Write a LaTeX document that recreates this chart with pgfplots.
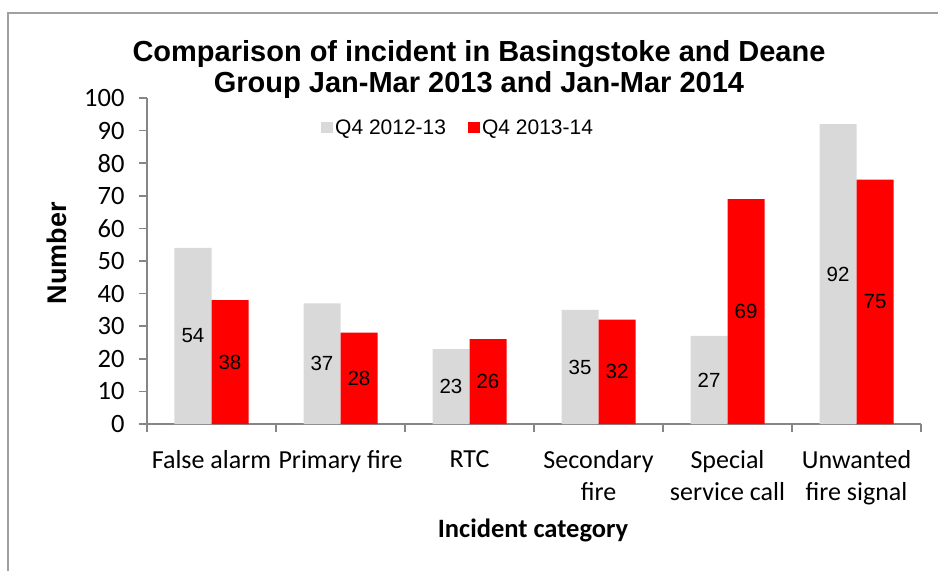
\documentclass[border=0pt]{standalone}
\usepackage{pgfplots}
\pgfplotsset{compat=1.18}
\usepackage{fontspec}
\setmainfont{Liberation Sans}
\newfontfamily\carlito{Carlito}
\definecolor{barGray}{HTML}{D9D9D9}
\definecolor{barRed}{HTML}{FF0000}
\definecolor{axGray}{HTML}{868686}
\definecolor{frameGray}{HTML}{A0A0A0}
\begin{document}
\begin{tikzpicture}
\useasboundingbox (0bp,0bp) rectangle (938bp,-571bp);
\draw[frameGray, line width=1.5bp] (8bp,-571bp) -- (8bp,-13bp) -- (938bp,-13bp);
\node[align=center, font=\fontsize{29bp}{31bp}\selectfont\bfseries, inner sep=0pt, anchor=base] at (479bp,-92.7bp)
  {Comparison of incident in Basingstoke and Deane\\Group Jan-Mar 2013 and Jan-Mar 2014};
\begin{axis}[
  at={(147bp,-424bp)}, anchor=south west,
  width=774bp, height=326bp, scale only axis,
  ybar=0pt, bar width=37bp,
  ymin=0, ymax=100, ytick={0,10,...,100},
  xmin=-0.5, xmax=5.5,
  xtick={-0.5,0.5,...,5.5},
  x tick label as interval,
  xticklabels={False alarm,Primary fire,RTC,Secondary\\fire,Special\\service call,Unwanted\\fire signal},
  axis x line*=bottom, axis y line*=left,
  axis line style={-, draw=axGray, line width=1.5bp},
  tick align=outside, major tick length=8bp,
  tick style={axGray, line width=1.5bp},
  /pgf/number format/assume math mode=true,
  yticklabel style={font=\carlito\fontsize{26.5bp}{30bp}\selectfont, xshift=-11bp},
  xticklabel style={font=\carlito\fontsize{26bp}{32bp}\selectfont, align=center, yshift=-15bp},
  ylabel={Number},
  xlabel={Incident category},
  every axis y label/.style={at={(axis description cs:-0.1163,0.5245)}, rotate=90, anchor=center, font=\fontsize{27bp}{30bp}\selectfont\bfseries},
  every axis x label/.style={at={(axis description cs:0.4987,-0.347)}, anchor=base, font=\carlito\fontsize{26.5bp}{30bp}\selectfont\bfseries},
  nodes near coords,
  visualization depends on=rawy \as \rawy,
  every node near coord/.append style={anchor=center, shift={(axis direction cs:0,-\rawy/2)}, font=\fontsize{20.5bp}{24bp}\selectfont, text=black},
  legend columns=2,
  legend style={at={(0.2248,0.908)}, anchor=west, draw=none, fill=none, inner sep=0pt,
    font=\fontsize{21bp}{24bp}\selectfont,
    nodes={inner sep=2bp},
    /tikz/every even column/.append style={column sep=20bp}},
  mylegend/.style={legend image code/.code={\fill[##1] (0bp,-5.5bp) rectangle (12bp,5.5bp);}},
]
\addplot[fill=barGray, draw=none, mylegend] coordinates {(0,54) (1,37) (2,23) (3,35) (4,27) (5,92)};
\addplot[fill=barRed, draw=none, mylegend] coordinates {(0,38) (1,28) (2,26) (3,32) (4,69) (5,75)};
\legend{Q4 2012-13, Q4 2013-14}
\end{axis}
\end{tikzpicture}
\end{document}
